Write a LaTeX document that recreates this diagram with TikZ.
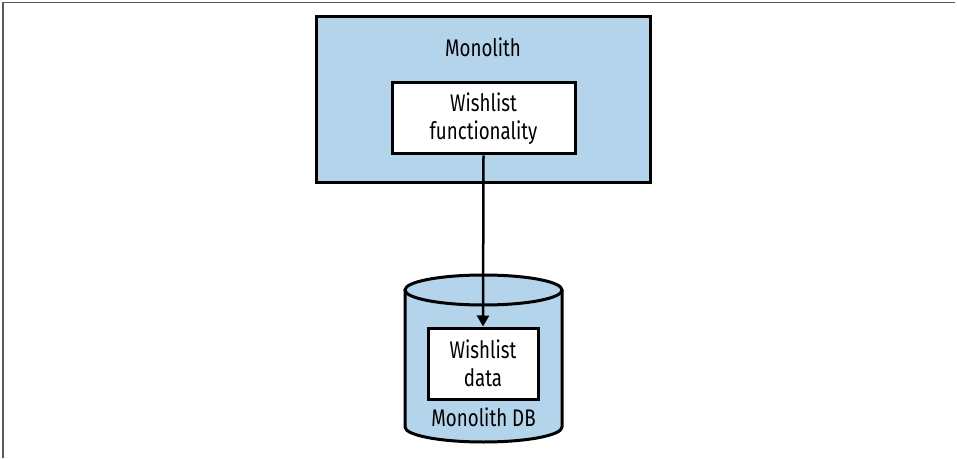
\documentclass[tikz,border=0pt]{standalone}
\usepackage{fontspec}
\setmainfont{Fira Sans}[FakeStretch=0.78]
\usetikzlibrary{arrows.meta}
\definecolor{boxblue}{RGB}{179,212,234}
\definecolor{framegray}{RGB}{90,90,90}
\begin{document}
\begin{tikzpicture}[x=1pt,y=1pt,
  line width=3pt,
  lbl/.style={font=\fontsize{24}{28}\selectfont, align=center, inner sep=0pt},
  whitebox/.style={draw=black, fill=white, minimum height=71pt, inner sep=0pt, align=center, font=\fontsize{24}{28}\selectfont},
  arr/.style={-{Triangle[length=11pt,width=12pt]}, line width=2.5pt}]
\useasboundingbox (0,0) rectangle (957,458);
% frame
\draw[framegray, line width=1.2pt] (3,0) -- (3,455.5) -- (955,455.5);
% monolith box
\node[draw=black, fill=boxblue, minimum width=334pt, minimum height=166pt, inner sep=0pt] (mono) at (483,358) {};
\node[lbl] (monolbl) at (483,411) {Monolith};
\node[whitebox, minimum width=183pt] (func) at (483.5,339.5) {Wishlist\\functionality};
% cylinder
\fill[boxblue] (405,168) -- (405,31) arc[start angle=180, end angle=360, x radius=78.5pt, y radius=15pt] -- (562,168) -- cycle;
\draw (405,168) -- (405,31) arc[start angle=180, end angle=360, x radius=78.5pt, y radius=15pt] -- (562,168);
\draw[fill=boxblue] (483.5,168) ellipse[x radius=78.5pt, y radius=15pt];
\node[lbl] (dblbl) at (483.5,41) {Monolith DB};
\node[whitebox, minimum width=110pt] (data) at (483,94.5) {Wishlist\\data};
% arrow
\draw[arr] (func.south) -- (data.north);
\end{tikzpicture}
\end{document}
